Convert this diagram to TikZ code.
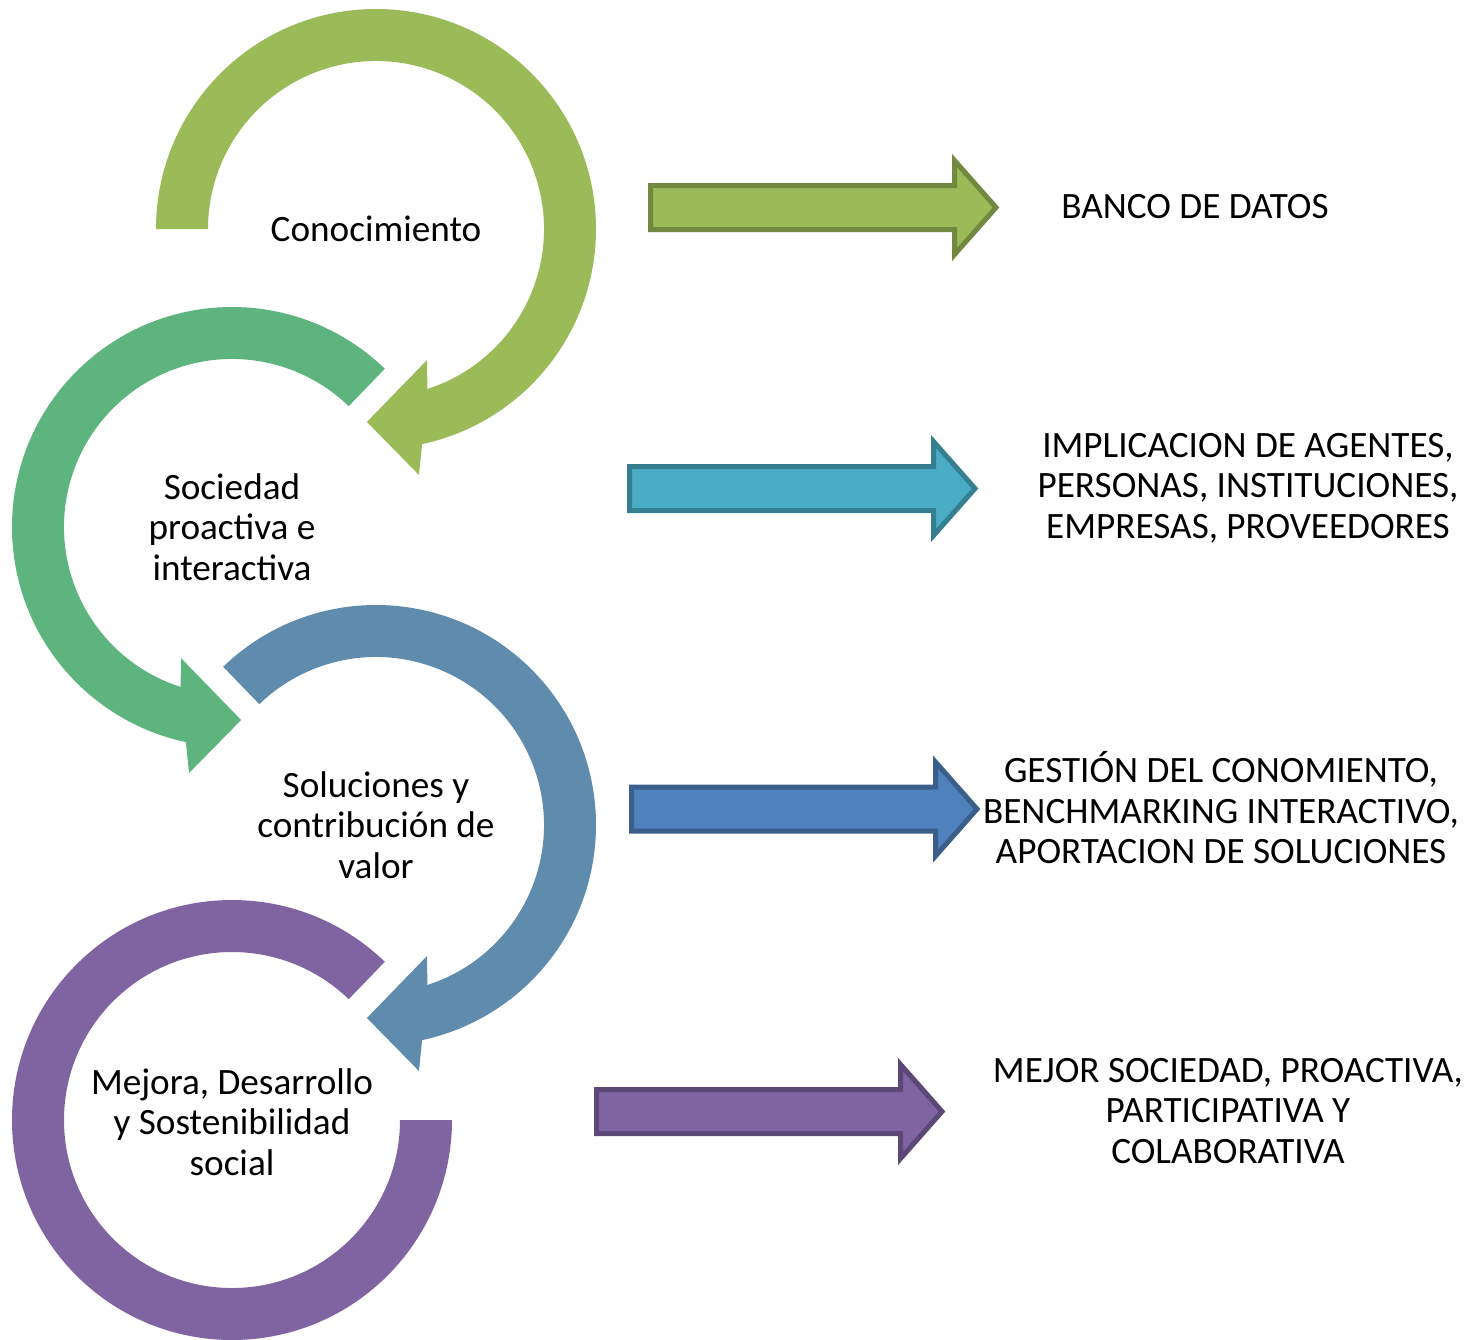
\documentclass[tikz,border=0pt]{standalone}
\usepackage{fontspec}
\setmainfont{Carlito}
\usepackage{tikz}
\usepackage{xcolor}
\definecolor{Olive}{HTML}{9BBB59}
\definecolor{OliveDark}{HTML}{71893F}
\definecolor{Jade}{HTML}{5DB47E}
\definecolor{Steel}{HTML}{5F8CAD}
\definecolor{Aqua}{HTML}{4BACC6}
\definecolor{AquaDark}{HTML}{357F91}
\definecolor{Azure}{HTML}{4F81BD}
\definecolor{AzureDark}{HTML}{3A5F8B}
\definecolor{Violet}{HTML}{8064A2}
\definecolor{VioletDark}{HTML}{5C4776}

% ring with head: centre, mirror (1 or -1), start angle, colour
\newcommand{\ringarrow}[4]{%
  \begin{scope}[shift={#1}, xscale=#2]
    \fill[#4] (#3:220) arc[start angle=#3, end angle=437.9, radius=220]
      -- (440.1:249.7) -- (452.7:193.2) -- (428.7:140.6)
      -- (432.2:168) arc[start angle=432.2, end angle=#3, radius=168] -- cycle;
  \end{scope}}

\begin{document}
\begin{tikzpicture}[
    x=0.5pt, y=-0.5pt,
    label/.style={align=center, inner sep=0pt,
                  font=\fontsize{18.6pt}{20.25pt}\selectfont},
    fat/.style={line width=2.5pt, line join=miter}
]
    \useasboundingbox (0,0) rectangle (1470,1339);

    % Cycle
    \ringarrow{(376,229)}{1}{180}{Olive}
    \ringarrow{(232,527)}{-1}{226}{Jade}
    \ringarrow{(376,825)}{1}{226}{Steel}
    \begin{scope}[shift={(232,1120)}, xscale=-1]
        \fill[Violet] (226:220) arc[start angle=226, end angle=540, radius=220]
            -- (540:168) arc[start angle=540, end angle=226, radius=168] -- cycle;
    \end{scope}

    \node[label] (know) at (376,229) {Conocimiento};
    \node[label] (soc) at (232,527) {Sociedad\\proactiva e\\interactiva};
    \node[label] (sol) at (376,825) {Soluciones y\\contribución de\\valor};
    \node[label] (mej) at (232,1122) {Mejora, Desarrollo\\y Sostenibilidad\\social};

    % Block arrows
    \foreach \x/\y/\fc/\dc in {648/207.5/Olive/OliveDark, 627/488.5/Aqua/AquaDark,
                               629/809/Azure/AzureDark, 594/1111.5/Violet/VioletDark}
        \draw[fat, fill=\fc, draw=\dc]
            (\x+2.5,\y-22) -- (\x+306.5,\y-22) -- (\x+306.5,\y-47)
            -- (\x+348,\y) -- (\x+306.5,\y+47) -- (\x+306.5,\y+22)
            -- (\x+2.5,\y+22) -- cycle;

    % Results
    \node[label] (banco) at (1195,207) {BANCO DE DATOS};
    \node[label] (impl) at (1248,488) {IMPLICACION DE AGENTES,\\PERSONAS, INSTITUCIONES,\\EMPRESAS, PROVEEDORES};
    \node[label] (gest) at (1221,808) {GESTIÓN DEL CONOMIENTO,\\BENCHMARKING INTERACTIVO,\\APORTACION DE SOLUCIONES};
    \node[label] (mejor) at (1228,1111) {MEJOR SOCIEDAD, PROACTIVA,\\PARTICIPATIVA Y\\COLABORATIVA};
\end{tikzpicture}
\end{document}
